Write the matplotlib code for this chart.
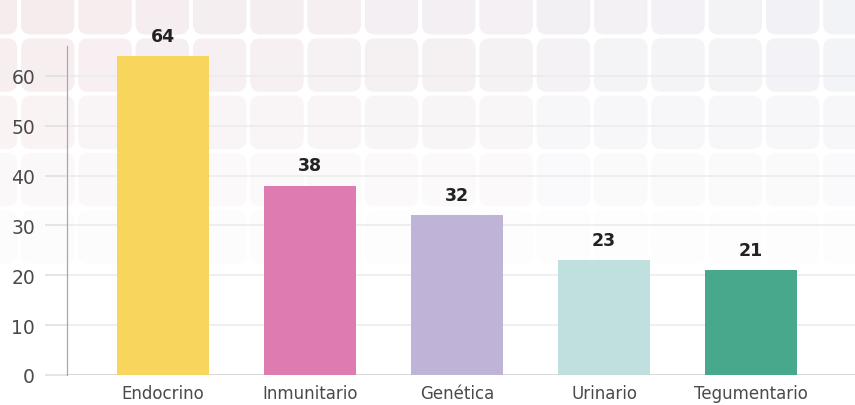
import matplotlib
matplotlib.use("Agg")
import matplotlib.pyplot as plt
from matplotlib.patches import FancyBboxPatch
import numpy as np

categories = ["Endocrino", "Inmunitario", "Genética", "Urinario", "Tegumentario"]
values = [64, 38, 32, 23, 21]
colors = ["#f8d55c", "#de7bb0", "#c0b3d8", "#c0e0e0", "#47a88b"]
yticks = [0, 10, 20, 30, 40, 50, 60]

W, H = 855, 406
fig = plt.figure(figsize=(W / 100, H / 100), dpi=100)
fig.patch.set_facecolor("white")

# decorative tiled background
bg = fig.add_axes([0, 0, 1, 1], zorder=0)
bg.set_xlim(0, W)
bg.set_ylim(H, 0)
bg.axis("off")
pitch = 57.3
size = 53.5
row_alpha = [1.0, 0.85, 0.6, 0.35, 0.12]
left_col = np.array([0xf6, 0xec, 0xee]) / 255
right_col = np.array([0xf2, 0xf3, 0xf7]) / 255
for r, a in enumerate(row_alpha):
    y0 = -18 + r * pitch
    for c in range(-1, 16):
        x0 = 21 + c * pitch
        t = min(max(x0 / W, 0), 1)
        col = left_col * (1 - t) + right_col * t
        bg.add_patch(FancyBboxPatch((x0, y0), size, size,
                                    boxstyle="round,pad=0,rounding_size=10",
                                    facecolor=col, edgecolor="none", alpha=a))

ax_left = 67 / W
ax_bottom = (H - 376) / H
ax_height = (376 - 47) / H
ax = fig.add_axes([ax_left, ax_bottom, 1 - ax_left, ax_height], zorder=1)
ax.patch.set_alpha(0)

x = np.arange(len(categories))
ax.bar(x, values, width=0.626, color=colors, zorder=3)
for xi, v in zip(x, values):
    ax.annotate(str(v), (xi, v), xytext=(0, 8), textcoords="offset points",
                ha="center", va="bottom", fontsize=12.5, fontweight="bold",
                color="#222222")

ax.set_xlim(-0.653, 4.707)
ax.set_ylim(0, 66)
ax.set_yticks(yticks)
ax.set_xticks(x)
ax.set_xticklabels(categories)
ax.yaxis.grid(True, color="#ececec", linewidth=1.2, zorder=0)
ax.axhline(0, color="#d4d4d4", linewidth=1.2, zorder=1)
ax.set_axisbelow(True)
for s in ["top", "right", "bottom"]:
    ax.spines[s].set_visible(False)
ax.spines["left"].set_color("#a8a8a8")
ax.spines["left"].set_linewidth(0.9)
ax.tick_params(axis="y", length=16, width=1.2, color="#e0e0e0", pad=7,
               labelsize=13.5, labelcolor="#4a4a4a")
ax.tick_params(axis="x", length=0, pad=6.5, labelsize=12, labelcolor="#4a4a4a")

fig.savefig("out.png", dpi=100)
